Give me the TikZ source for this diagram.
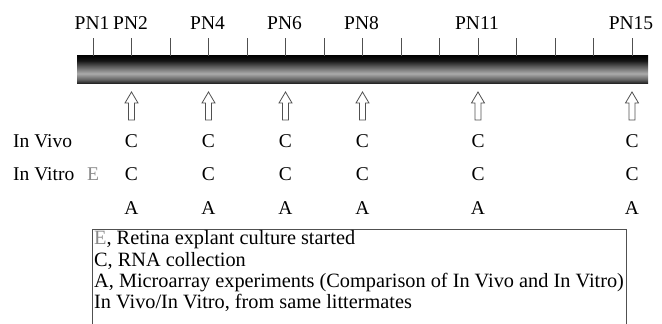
\documentclass[tikz,border=0pt]{standalone}
\usepackage{fontspec}
\setmainfont{Liberation Serif}
\definecolor{egray}{HTML}{8A8A8A}
\definecolor{linegray}{HTML}{505050}
\pgfdeclareverticalshading{barshade}{100bp}{color(0bp)=(black!85); color(25bp)=(black!85); color(31bp)=(black!62); color(42bp)=(black!33); color(55bp)=(black!65); color(65bp)=(black!92); color(75bp)=(black); color(100bp)=(black)}
\begin{document}
\begin{tikzpicture}[x=1pt,y=-1pt,
  lbl/.style={font=\fontsize{19.5}{22}\selectfont, inner sep=0pt, text=black},
  leg/.style={font=\fontsize{20.3}{22}\selectfont, inner sep=0pt, anchor=base west, text=black},
  tickline/.style={draw=linegray, line width=0.9pt},
  uparrow/.style={draw=linegray, line width=0.8pt, fill=white, line join=miter},
  boxline/.style={draw=linegray, line width=0.9pt}]
\useasboundingbox (0,0) rectangle (662,324);
\fill[white] (0,0) rectangle (662,324);
% bar
\shade[shading=barshade] (77,55) rectangle (648,83);
% ticks
\foreach \i in {0,...,14}{
  \draw[tickline] ({93+38.5*\i},38) -- ({93+38.5*\i},55.5);
}
% PN labels
\foreach \x/\t in {92/1,130.5/2,207.5/4,284.5/6,361.5/8,477/11,631/15}{
  \node[lbl, anchor=base] (pn\t) at (\x,29) {PN\t};
}
% arrows
\foreach \x/\t in {131.5/2,208.5/4,285.5/6,362.5/8,478/11,632/15}{
  \draw[uparrow] (\x,92) -- (\x+6.5,103) -- (\x+3,103) -- (\x+3,120) -- (\x-3,120) -- (\x-3,103) -- (\x-6.5,103) -- cycle;
}
% row labels
\node[lbl, anchor=base west] (invivo) at (13,147) {In Vivo};
\node[lbl, anchor=base west] (invitro) at (13,180) {In Vitro};
\node[lbl, anchor=base, text=egray] (estart) at (93,180) {E};
% columns
\foreach \x/\t in {131.5/2,208.5/4,285.5/6,362.5/8,478/11,632/15}{
  \node[lbl, anchor=base] (cv\t) at (\x,147) {C};
  \node[lbl, anchor=base] (ct\t) at (\x,180) {C};
  \node[lbl, anchor=base] (a\t) at (\x,214) {A};
}
% legend box
\draw[boxline] (92,324) -- (92,229) -- (626,229) -- (626,324);
\node[leg] (leg1) at (94,244) {\textcolor{egray}{E}, Retina explant culture started};
\node[leg] (leg2) at (94,266) {C, RNA collection};
\node[leg] (leg3) at (94,287) {A, Microarray experiments (Comparison of In Vivo and In Vitro)};
\node[leg] (leg4) at (94,308) {In Vivo/In Vitro, from same littermates};
\end{tikzpicture}
\end{document}
